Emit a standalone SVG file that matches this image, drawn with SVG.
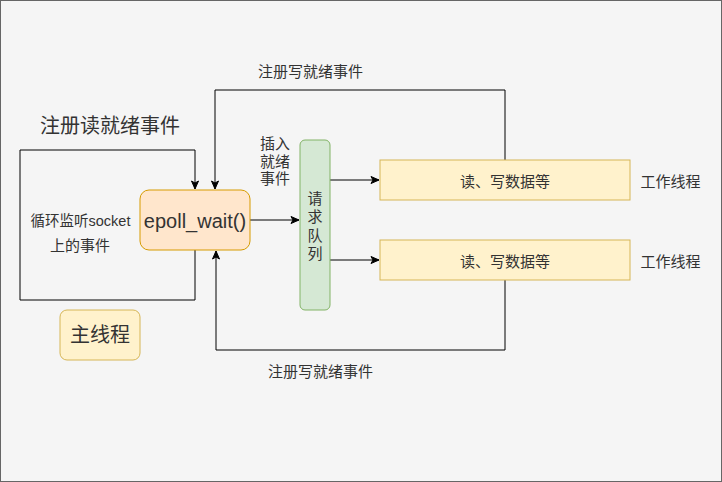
<svg xmlns="http://www.w3.org/2000/svg" width="722" height="482" viewBox="0 0 722 482">
<style>
text{font-family:"Liberation Sans","Noto Sans CJK SC",sans-serif;fill:#333;}
.ln{fill:none;stroke:#000;stroke-width:1;}
.t13{font-size:15px;}
.mid{text-anchor:middle;dominant-baseline:central;}
</style>
<defs>
<marker id="ah" viewBox="0 0 10 10" refX="9" refY="5" markerWidth="10" markerHeight="10" markerUnits="userSpaceOnUse" orient="auto">
<path d="M1,1.5 L9,5 L1,8.5 L3,5 Z" fill="#000" stroke="#000" stroke-width="1"/>
</marker>
</defs>
<rect x="0.5" y="0.5" width="721" height="481" fill="#f5f5f5" stroke="#666"/>
<g id="connectors">
<path class="ln" d="M195,250 V300 H20 V150 H195 V189" marker-end="url(#ah)"/>
<path class="ln" d="M250,220 H299" marker-end="url(#ah)"/>
<path class="ln" d="M505,160 V90 H215 V189" marker-end="url(#ah)"/>
<path class="ln" d="M505,280 V350 H216 V251" marker-end="url(#ah)"/>
<path class="ln" d="M330,180 H379" marker-end="url(#ah)"/>
<path class="ln" d="M330,260 H379" marker-end="url(#ah)"/>
</g>
<g id="label-read">
<text x="110" y="126" class="mid" font-size="20">注册读就绪事件</text>
</g>
<g id="label-loop">
<text x="80.5" y="221" class="mid" font-size="14.5">循环监听socket</text>
<text x="80" y="245" class="mid t13">上的事件</text>
</g>
<g id="epoll">
<rect x="140" y="190" width="110" height="60" rx="9" fill="#ffe6cc" stroke="#d79b00"/>
<text x="195" y="221" class="mid" font-size="20">epoll_wait()</text>
</g>
<g id="main-thread">
<rect x="60" y="310" width="80" height="50" rx="7" fill="#fff2cc" stroke="#d6b656"/>
<text x="100" y="335" class="mid" font-size="20">主线程</text>
</g>
<g id="label-insert">
<text x="275" y="143" class="mid t13">插入</text>
<text x="275" y="161" class="mid t13">就绪</text>
<text x="275" y="178" class="mid t13">事件</text>
</g>
<g id="queue">
<rect x="300" y="140" width="30" height="170" rx="5" fill="#d5e8d4" stroke="#82b366"/>
<text x="315" y="198" class="mid t13">请</text>
<text x="315" y="216.5" class="mid t13">求</text>
<text x="315" y="235" class="mid t13">队</text>
<text x="315" y="253.5" class="mid t13">列</text>
</g>
<g id="label-write-top">
<text x="310.5" y="71" class="mid t13">注册写就绪事件</text>
</g>
<g id="label-write-bottom">
<text x="320.5" y="371" class="mid t13">注册写就绪事件</text>
</g>
<g id="worker1">
<rect x="380" y="160" width="250" height="40" fill="#fff2cc" stroke="#d6b656"/>
<text x="505" y="181" class="mid t13">读、写数据等</text>
</g>
<g id="worker2">
<rect x="380" y="240" width="250" height="40" fill="#fff2cc" stroke="#d6b656"/>
<text x="505" y="261" class="mid t13">读、写数据等</text>
</g>
<g id="label-worker1">
<text x="670.5" y="181" class="mid t13">工作线程</text>
</g>
<g id="label-worker2">
<text x="670.5" y="261" class="mid t13">工作线程</text>
</g>
</svg>
